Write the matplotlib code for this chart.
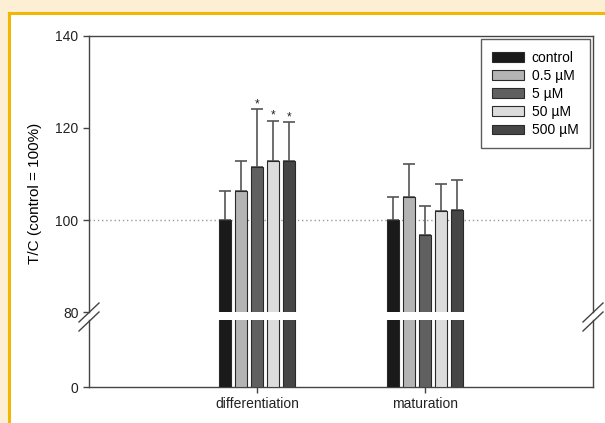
import numpy as np
import matplotlib
matplotlib.use("Agg")
import matplotlib.pyplot as plt
from matplotlib.lines import Line2D
from matplotlib.patches import Rectangle

plt.rcParams['font.family'] = ['Liberation Sans', 'DejaVu Sans']

stages = ['differentiation', 'maturation']
doses = ['control', '0.5 µM', '5 µM', '50 µM', '500 µM']
colors = ['#1a1a1a', '#b4b4b4', '#606060', '#dcdcdc', '#464646']

# T/C values (%) per dose, one entry per stage
means = [
    [100.0, 100.0],
    [106.2, 105.1],
    [111.5, 96.8],
    [112.9, 102.0],
    [112.8, 102.2],
]
errs = [
    [6.4, 5.1],
    [6.7, 7.1],
    [12.6, 6.2],
    [8.7, 5.8],
    [8.4, 6.5],
]
# significant vs control: (dose index, stage index)
signif = [(2, 0), (3, 0), (4, 0)]

W, H = 605, 423
fig = plt.figure(figsize=(W / 100, H / 100), dpi=100, facecolor='#fcefd3')

# white panel with yellow edge on left and top
fig.patches.append(Rectangle((10 / W, 0), 1 - 10 / W, 1 - 14 / H, transform=fig.transFigure,
                             facecolor='white', edgecolor='none', zorder=-5))
fig.lines.append(Line2D([9 / W, 9 / W], [0, 1 - 13 / H], transform=fig.transFigure,
                        color='#f2b705', lw=2.2, zorder=-4))
fig.lines.append(Line2D([9 / W, 1], [1 - 13 / H, 1 - 13 / H], transform=fig.transFigure,
                        color='#f2b705', lw=2.2, zorder=-4))

left, right = 89 / W, 593 / W
ax_top = fig.add_axes([left, 1 - 312 / H, right - left, 276 / H])
ax_bot = fig.add_axes([left, 1 - 387 / H, right - left, 67 / H])

x = np.arange(1, len(stages) + 1)
step = 0.096
width = 0.072
spine_col = '#444444'

for ax in (ax_top, ax_bot):
    ax.set_facecolor('none')
    for i, (dose, col) in enumerate(zip(doses, colors)):
        pos = x + (i - 2) * step
        ax.bar(pos, means[i], width, color=col, edgecolor='#2a2a2a', linewidth=0.8,
               label=dose, zorder=3)
        ax.errorbar(pos, means[i], yerr=[np.zeros(len(stages)), errs[i]], fmt='none',
                    ecolor='#555555', elinewidth=1.2, capsize=4.5, capthick=1.2, zorder=2)
    ax.set_xlim(0, 3)
    for s in ax.spines.values():
        s.set_color(spine_col)
        s.set_linewidth(1.0)
    ax.tick_params(colors='#222222', labelsize=10, length=4, width=1.0, color=spine_col)

ax_top.set_ylim(80, 140)
ax_top.set_yticks([80, 100, 120, 140])
ax_top.spines['bottom'].set_visible(False)
ax_top.set_xticks([])
ax_top.axhline(100, color='#999999', lw=1.0, ls=(0, (1, 2)), zorder=1)
ax_top.set_ylabel('T/C (control = 100%)', fontsize=11)
ax_top.yaxis.set_label_coords(-0.093, 0.428)

for i, j in signif:
    ax_top.text(x[j] + (i - 2) * step, means[i][j] + errs[i][j] + 0.4, '*',
                ha='center', va='baseline', fontsize=8.5, color='#222222')

ax_bot.set_ylim(0, 80)
ax_bot.set_yticks([0])
ax_bot.spines['top'].set_visible(False)
ax_bot.set_xticks(x)
ax_bot.set_xticklabels(stages)

leg = ax_top.legend(loc='upper right', fontsize=10, frameon=True, fancybox=False,
                    edgecolor='#333333', handlelength=2.3, handleheight=0.7,
                    handletextpad=0.55, labelspacing=0.3, borderpad=0.8,
                    borderaxespad=0.25)
leg.get_frame().set_linewidth(1.0)

# axis break marks
for bx in (89, 593):
    for dy in (0, 9):
        fig.lines.append(Line2D([(bx - 10) / W, (bx + 10) / W],
                                [1 - (322 + dy) / H, 1 - (303 + dy) / H],
                                transform=fig.transFigure, color='#444444', lw=1.0))

fig.savefig('out.png', dpi=100, facecolor=fig.get_facecolor())
